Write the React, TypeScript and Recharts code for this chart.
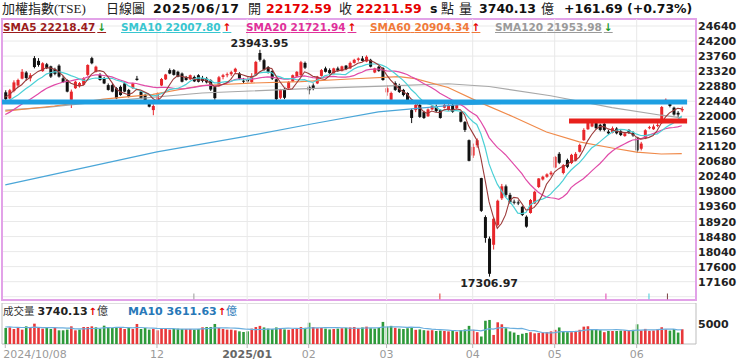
import React from 'react';
import {
  ComposedChart, Bar, Line, XAxis, YAxis, CartesianGrid,
  ReferenceLine, ReferenceArea, ReferenceDot,
} from 'recharts';

// ---------- DATA (TAIEX daily, 2024/10/08 - 2025/06/17) : [open, high, low, close]
const oct2024 = [
  [22700, 22760, 22470, 22500], [22520, 22800, 22500, 22760], [22740, 23050, 22700, 22990],
  [22900, 23100, 22860, 23060], [23100, 23380, 23080, 23300], [23280, 23320, 23050, 23120],
  [23110, 23260, 23020, 23200], [23700, 23760, 23400, 23440], [23620, 23700, 23450, 23500],
  [23320, 23580, 23300, 23550], [23520, 23560, 23380, 23410], [23460, 23480, 23120, 23160],
  [23380, 23420, 23200, 23240], [23480, 23520, 23130, 23160], [23110, 23180, 22980, 23000],
  [23060, 23080, 22700, 22720],
];
const nov2024 = [
  [22480, 22780, 22240, 22720], [22820, 23040, 22800, 23010], [22880, 23000, 22840, 22970],
  [22920, 23140, 22900, 23110], [23210, 23520, 23180, 23500], [23700, 23740, 23520, 23550],
  [23300, 23480, 23280, 23450], [23210, 23260, 23040, 23060], [23110, 23150, 22940, 22960],
  [22910, 22960, 22750, 22770], [22910, 22950, 22700, 22720], [22820, 22850, 22500, 22525],
  [22860, 22900, 22600, 22620], [22960, 23000, 22700, 22720], [22770, 22800, 22550, 22570],
  [22820, 22980, 22800, 22960], [23100, 23180, 23040, 23060], [22720, 22760, 22500, 22525],
  [22620, 22650, 22400, 22425], [22425, 22450, 22260, 22280], [22180, 22350, 22030, 22300],
];
const dec2024 = [
  [22480, 22700, 22460, 22670], [22900, 23120, 22880, 23090], [23080, 23240, 23060, 23220],
  [23350, 23400, 23230, 23250], [23350, 23380, 23190, 23210], [23300, 23330, 23140, 23160],
  [23250, 23280, 22990, 23010], [23150, 23180, 23040, 23060], [23080, 23220, 23060, 23200],
  [23150, 23190, 23000, 23020], [23200, 23230, 22990, 23010], [23120, 23180, 22990, 23030],
  [23100, 23150, 22960, 22990], [23050, 23080, 22740, 22780], [22850, 22880, 22480, 22530],
  [22880, 23180, 22860, 23140], [23150, 23240, 23080, 23200], [23200, 23280, 23140, 23230],
  [23230, 23330, 23180, 23290], [23300, 23420, 23260, 23390], [23250, 23290, 23060, 23100],
  [23040, 23120, 22950, 23030],
];
const jan2025 = [
  [23060, 23180, 22980, 23020], [23000, 23260, 22980, 23180], [23200, 23620, 23180, 23590],
  [23850, 23943.95, 23600, 23650], [23640, 23680, 23330, 23360], [23440, 23470, 23250, 23300],
  [23320, 23350, 23060, 23100], [23080, 23100, 22460, 22500], [22540, 22800, 22500, 22780],
  [22800, 22820, 22500, 22540], [22820, 23030, 22800, 23000], [23020, 23220, 23000, 23200],
  [23160, 23320, 23140, 23300], [23200, 23620, 23180, 23580], [23560, 23600, 23380, 23420],
];
const feb2025 = [
  [22860, 22900, 22640, 22760], [22900, 22960, 22760, 22800], [22960, 23180, 22940, 23160],
  [23180, 23380, 23160, 23350], [23400, 23450, 23280, 23300], [23350, 23400, 23240, 23260],
  [23250, 23420, 23230, 23400], [23400, 23450, 23300, 23330], [23330, 23480, 23310, 23460],
  [23480, 23500, 23350, 23380], [23400, 23600, 23380, 23560], [23560, 23680, 23540, 23650],
  [23650, 23720, 23600, 23690], [23690, 23760, 23600, 23620], [23600, 23780, 23580, 23740],
  [23650, 23680, 23430, 23450], [23280, 23420, 23260, 23400], [23450, 23480, 23300, 23330],
  [23410, 23440, 23040, 23060],
];
const mar2025 = [
  [22700, 22900, 22600, 22820], [22480, 22720, 22400, 22680], [22970, 23020, 22740, 22770],
  [22910, 22950, 22680, 22710], [22770, 22800, 22580, 22620], [22680, 22700, 22440, 22475],
  [22180, 22220, 21800, 21950], [22180, 22360, 22120, 22330], [22330, 22380, 21950, 21980],
  [22120, 22160, 21920, 21950], [22000, 22230, 21980, 22200], [22200, 22330, 22180, 22300],
  [22300, 22340, 22120, 22150], [22180, 22200, 21930, 21950], [22250, 22360, 22230, 22330],
  [22180, 22350, 22160, 22330], [22330, 22380, 22100, 22130], [22240, 22350, 22220, 22330],
  [22120, 22150, 21820, 21840], [21830, 21860, 21540, 21600], [21300, 21320, 20680, 20695],
];
const apr2025 = [
  [20850, 21200, 20780, 21100], [21150, 21350, 21080, 21298], [20190, 20200, 19200, 19232],
  [19050, 19100, 18300, 18440], [18420, 18480, 17306.97, 17391], [18240, 19050, 18100, 19001],
  [18820, 19560, 18780, 19528], [19600, 20020, 19550, 19950], [19950, 20000, 19640, 19700],
  [19700, 19760, 19440, 19480], [19500, 19560, 19420, 19470], [19480, 19540, 19400, 19450],
  [19350, 19380, 19080, 19110], [19060, 19100, 18740, 18770], [19170, 19580, 19150, 19550],
  [19450, 19820, 19430, 19790], [19930, 20190, 19900, 20180], [20150, 20260, 20120, 20230],
  [20230, 20330, 20200, 20300], [20300, 20400, 20260, 20350],
];
const may2025 = [
  [20500, 20840, 20480, 20810], [20900, 20950, 20600, 20640], [20340, 20600, 20300, 20570],
  [20720, 20760, 20480, 20520], [20630, 20900, 20600, 20870], [20700, 20950, 20680, 20900],
  [20960, 21200, 20940, 21160], [21300, 21650, 21280, 21600], [21620, 21880, 21600, 21830],
  [21700, 21880, 21680, 21800], [21800, 21840, 21620, 21650], [21750, 21780, 21560, 21600],
  [21780, 21800, 21560, 21600], [21550, 21600, 21460, 21500], [21520, 21700, 21500, 21650],
  [21640, 21680, 21470, 21500], [21560, 21600, 21420, 21450], [21420, 21540, 21400, 21500],
  [21600, 21620, 21480, 21520], [21520, 21560, 21400, 21440],
];
const jun2025 = [
  [21380, 21400, 20930, 21000], [21050, 21250, 21000, 21200], [21350, 21620, 21330, 21590],
  [21650, 21720, 21620, 21680], [21620, 21760, 21600, 21700], [21720, 21800, 21680, 21746],
  [21800, 22300, 21780, 22270], [22450, 22520, 22380, 22480], [22450, 22470, 22260, 22300],
  [22250, 22280, 22020, 22050], [22100, 22150, 21980, 22049.9], [22172.59, 22280, 22120, 22211.59],
];

// closes of the 19 sessions before the window (for the short moving averages)
const prevCloses = [21480, 21500, 21450, 21700, 21800, 21750, 21780, 21900, 21850, 21880,
  22050, 22200, 22350, 22300, 22200, 22400, 22450, 22550, 22900];

// turnover, 億
const volOct = [4060, 4230, 3810, 4060, 3640, 4480, 4310, 5160, 4060, 3890, 4230, 3810, 4060, 3470, 3470, 3640];
const volNov = [4480, 3470, 3640, 4310, 4310, 4480, 4230, 3890, 4650, 4230, 4060, 4230, 4060, 3810, 4060, 3810, 5080, 3810, 4060, 3640, 3810];
const volDec = [3470, 3810, 3810, 3640, 3810, 3890, 3810, 3810, 3810, 3640, 3810, 4230, 4310, 4310, 5080, 4060, 3810, 3640, 3640, 3470, 3210, 3050];
const volJan = [3210, 3900, 4300, 4600, 4200, 3900, 3800, 4200, 3900, 3700, 3600, 3800, 3900, 4300, 4100];
const volFeb = [5400, 4300, 4000, 4100, 3900, 3700, 3800, 3900, 4000, 4100, 4200, 4300, 4000, 4200, 4400, 4000, 3900, 4100, 5600];
const volMar = [4400, 4600, 4100, 3900, 3800, 4000, 4300, 3600, 3700, 3500, 3400, 3500, 3300, 3400, 3300, 3200, 3400, 3100, 3500, 3700, 4600];
const volApr = [3600, 3000, 1900, 5900, 6100, 2300, 5500, 5000, 4000, 3200, 2900, 2300, 2600, 2800, 3000, 2700, 2800, 2900, 3000, 3200];
const volMay = [3600, 4200, 3200, 3000, 3000, 3200, 3600, 4400, 4500, 3600, 3800, 3500, 3000, 3300, 3300, 3300, 3400, 3400, 3300, 3600];
const volJun = [5000, 3400, 3830, 3330, 3420, 3750, 4250, 3700, 3400, 3800, 2900, 3740.13];
const prevVolumes = [4200, 4500, 4300, 4100, 4400, 4600, 4200, 4300, 4500];

// long moving averages: [session index, value]
const sma60Points = [[0, 22150], [12, 22300], [24, 22500], [36, 22640], [48, 22900], [60, 22970], [72, 23010],
  [84, 23090], [96, 23160], [100, 23100], [108, 22840], [116, 22390], [124, 21980], [132, 21540],
  [140, 21250], [148, 21070], [154, 20950], [160, 20895], [165, 20904.34]];
const sma120Points = [[0, 22180], [10, 22260], [23, 22420], [48, 22680], [72, 22800], [92, 22880],
  [108, 22950], [118, 22870], [133, 22600], [148, 22250], [160, 22030], [165, 21953.98]];
const sma240Points = [[0, 19990], [37, 20960], [59, 21420], [75, 21780], [91, 22130], [110, 22330],
  [125, 22390], [145, 22400], [165, 22390]];

const priceTicks = [16720, 17160, 17600, 18040, 18480, 18920, 19360, 19800, 20240, 20680, 21120,
  21560, 22000, 22440, 22880, 23320, 23760, 24200, 24640];
const monthTicks = [0, 37, 59, 74, 93, 114, 134, 154];
const monthLabels = ['2024/10/08', '12', '2025/01', '02', '03', '04', '05', '06'];
const blueSupport = { from: -0.8, to: 166.3, value: 22420 };
const redResistance = { from: 137.5, to: 166.3, value: 21860 };
const eventMarks = [
  { i: 46, color: '#9a9a9a' }, { i: 106, color: '#e03030' }, { i: 146.5, color: '#e040b0' },
  { i: 157, color: '#40c8d8' }, { i: 161.5, color: '#7a4040' },
];
const highMark = { i: 62, value: 23943.95, label: '23943.95' };
const lowMark = { i: 118, value: 17306.97, label: '17306.97' };
const legendItems = [
  { name: 'SMA5', value: '22218.47', up: false, color: '#9b1c1c', x: 3 },
  { name: 'SMA10', value: '22007.80', up: true, color: '#38c6d0', x: 121 },
  { name: 'SMA20', value: '21721.94', up: true, color: '#e0309a', x: 246 },
  { name: 'SMA60', value: '20904.34', up: true, color: '#f07a3a', x: 370 },
  { name: 'SMA120', value: '21953.98', up: false, color: '#9a9a9a', x: 495 },
];

// ---------- build chart rows
const candles = [...oct2024, ...nov2024, ...dec2024, ...jan2025, ...feb2025, ...mar2025, ...apr2025, ...may2025, ...jun2025];
const volumes = [...volOct, ...volNov, ...volDec, ...volJan, ...volFeb, ...volMar, ...volApr, ...volMay, ...volJun];
const allCloses = [...prevCloses, ...candles.map((c) => c[3])];
const allVols = [...prevVolumes, ...volumes];
const toMap = (pts: number[][]) => new Map(pts.map((p) => [p[0], p[1]]));
const m60 = toMap(sma60Points);
const m120 = toMap(sma120Points);
const m240 = toMap(sma240Points);
const mean = (arr: number[], end: number, n: number) => {
  let s = 0;
  for (let j = end - n + 1; j <= end; j++) s += arr[j];
  return s / n;
};

const data = candles.map(([o, h, l, c], i) => {
  const k = i + prevCloses.length;
  const prev = allCloses[k - 1];
  return {
    i, o, h, l, c,
    ma5: mean(allCloses, k, 5),
    ma10: mean(allCloses, k, 10),
    ma20: mean(allCloses, k, 20),
    ma60: m60.has(i) ? m60.get(i) : null,
    ma120: m120.has(i) ? m120.get(i) : null,
    ma240: m240.has(i) ? m240.get(i) : null,
    v: volumes[i],
    vUp: c >= prev,
    vma10: mean(allVols, i + prevVolumes.length, 10),
  };
});

// ---------- style
const X_DOMAIN: [number, number] = [-0.8, 168.47];
const Y_DOMAIN: [number, number] = [16624, 24845];
const RED = '#e8262b';
const DOWN = '#111111';
const FONT = '"DejaVu Sans", Verdana, sans-serif';
const CJK = '"Liberation Serif", "Noto Sans CJK TC", serif';
const GRID = '#e9e9e9';

const Candle = (props: any) => {
  const { x, y, width, height, payload } = props;
  if (!payload || x == null) return <g />;
  const { o, h, l, c } = payload;
  const top = Math.min(y, y + height);
  const hh = Math.abs(height);
  const span = h - l || 1;
  const py = (v: number) => top + ((h - v) / span) * hh;
  const cx = x + width / 2;
  const color = c >= o ? RED : DOWN;
  const bt = py(Math.max(o, c));
  const bb = py(Math.min(o, c));
  return (
    <g>
      <line x1={cx} x2={cx} y1={top} y2={top + hh} stroke={color} strokeWidth={1} />
      <rect x={cx - 1.5} y={bt} width={3} height={Math.max(1, bb - bt)} fill={color} />
    </g>
  );
};

const VolBar = (props: any) => {
  const { x, y, width, height, payload } = props;
  if (!payload || x == null) return <g />;
  const top = Math.min(y, y + height);
  const cx = x + width / 2;
  return <rect x={cx - 1.3} y={top} width={2.6} height={Math.abs(height)} fill={payload.vUp ? '#e8383a' : '#2e9a3a'} />;
};

const PriceTick = (props: any) => {
  const { x, y, payload } = props;
  if (payload.value === priceTicks[0]) return <g />;
  return (
    <text x={x} y={y} dy={4} textAnchor="start" fontFamily={FONT} fontSize={11} fontWeight={700} fill="#222">
      {payload.value}
    </text>
  );
};

const VolTick = (props: any) => {
  const { x, y, payload } = props;
  return (
    <text x={x} y={y} dy={4} textAnchor="start" fontFamily={FONT} fontSize={11} fontWeight={700} fill="#222">
      {payload.value}
    </text>
  );
};

const DateTick = (props: any) => {
  const { x, y, payload } = props;
  const idx = monthTicks.indexOf(payload.value);
  const label = monthLabels[idx] ?? '';
  const first = idx === 0;
  const bold = label.length === 7;
  return (
    <text x={first ? x - 2 : x} y={y} dy={9} textAnchor={first ? 'start' : 'middle'}
      fontFamily={FONT} fontSize={11} fontWeight={bold ? 700 : 400} fill={bold ? '#666' : '#9a9a9a'}>
      {label}
    </text>
  );
};

const T = ({ x, y, children, style }: any) => (
  <span style={{ position: 'absolute', left: x, top: y, whiteSpace: 'nowrap', lineHeight: '16px', ...style }}>
    {children}
  </span>
);

const num = (size: number, color = '#111', extra: any = {}) => ({ fontFamily: FONT, fontWeight: 700, fontSize: size, color, ...extra });
const cjk = (size: number, color = '#222') => ({ fontFamily: CJK, fontSize: size, color });

export default function App() {
  return (
    <div style={{ position: 'absolute', left: 0, top: 0, width: 740, height: 364, background: '#fff', overflow: 'hidden' }}>
      {/* price panel */}
      <div style={{ position: 'absolute', left: 0, top: 0 }}>
        <ComposedChart width={740} height={301} data={data} margin={{ top: 19, right: 0, bottom: 1, left: 2 }}>
          <CartesianGrid vertical={false} stroke={GRID} />
          <XAxis type="number" dataKey="i" domain={X_DOMAIN} ticks={monthTicks} allowDataOverflow hide />
          <YAxis orientation="right" width={44} domain={Y_DOMAIN} ticks={priceTicks} allowDataOverflow
            axisLine={false} tickLine={false} tickSize={0} tickMargin={2} interval={0} tick={<PriceTick />} />
          {monthTicks.slice(1).map((m) => (
            <ReferenceLine key={'g' + m} x={m} stroke={GRID} strokeWidth={1} />
          ))}
          <Line dataKey="ma240" stroke="#4aa6d8" strokeWidth={1.2} dot={false} connectNulls isAnimationActive={false} />
          <Line dataKey="ma120" stroke="#a8a8a8" strokeWidth={1.2} dot={false} connectNulls isAnimationActive={false} />
          <Line dataKey="ma60" stroke="#f08a4a" strokeWidth={1.2} dot={false} connectNulls isAnimationActive={false} />
          <Bar dataKey={(d: any) => [d.l, d.h]} barSize={3} shape={<Candle />} isAnimationActive={false} />
          <Line dataKey="ma20" stroke="#e04aa8" strokeWidth={1.2} dot={false} isAnimationActive={false} />
          <Line dataKey="ma10" stroke="#4cd0d6" strokeWidth={1.2} dot={false} isAnimationActive={false} />
          <Line dataKey="ma5" stroke="#9c3a3a" strokeWidth={1.1} dot={false} isAnimationActive={false} />
          <ReferenceLine segment={[{ x: blueSupport.from, y: blueSupport.value }, { x: blueSupport.to, y: blueSupport.value }]}
            stroke="#1e9fe2" strokeWidth={5} />
          <ReferenceLine segment={[{ x: redResistance.from, y: redResistance.value }, { x: redResistance.to, y: redResistance.value }]}
            stroke="#e8201c" strokeWidth={5} />
          {eventMarks.map((e) => (
            <ReferenceLine key={'e' + e.i} segment={[{ x: e.i, y: Y_DOMAIN[0] + 20 }, { x: e.i, y: Y_DOMAIN[0] + 190 }]}
              stroke={e.color} strokeWidth={1} />
          ))}
          <ReferenceDot x={highMark.i} y={highMark.value} r={0} fill="none" stroke="none"
            label={{ value: highMark.label, position: 'top', offset: 3, fill: '#222', fontSize: 11, fontWeight: 700, fontFamily: FONT }} />
          <ReferenceDot x={lowMark.i} y={lowMark.value} r={0} fill="none" stroke="none"
            label={{ value: lowMark.label, position: 'bottom', offset: 3, fill: '#222', fontSize: 11, fontWeight: 700, fontFamily: FONT }} />
          <ReferenceArea x1={X_DOMAIN[0]} x2={X_DOMAIN[1]} y1={Y_DOMAIN[0]} y2={Y_DOMAIN[1]}
            fill="none" fillOpacity={0} stroke="#e2a2e8" strokeWidth={2} />
        </ComposedChart>
      </div>

      {/* volume panel */}
      <div style={{ position: 'absolute', left: 0, top: 303 }}>
        <ComposedChart width={740} height={61} data={data} margin={{ top: 0, right: 0, bottom: 0, left: 2 }}>
          <XAxis type="number" dataKey="i" domain={X_DOMAIN} ticks={monthTicks} interval={0} allowDataOverflow
            height={20} axisLine={false} tickLine={{ stroke: '#b8b8b8' }} tickSize={4} tickMargin={1} tick={<DateTick />} />
          <YAxis orientation="right" width={44} domain={[0, 10400]} ticks={[5000]} allowDataOverflow
            axisLine={false} tickLine={false} tickSize={0} tickMargin={2} tick={<VolTick />} />
          {monthTicks.slice(1).map((m) => (
            <ReferenceLine key={'vg' + m} x={m} stroke={GRID} strokeWidth={1} />
          ))}
          <Bar dataKey="v" barSize={3} shape={<VolBar />} isAnimationActive={false} />
          <Line dataKey="vma10" stroke="#6aaede" strokeWidth={1.2} dot={false} isAnimationActive={false} />
          <ReferenceArea x1={X_DOMAIN[0]} x2={X_DOMAIN[1]} y1={0} y2={10400} fill="none" fillOpacity={0} stroke="#bdbdbd" strokeWidth={1} />
        </ComposedChart>
      </div>

      {/* header */}
      <T x={2} y={1} style={cjk(13)}>加權指數(TSE)</T>
      <T x={106} y={1} style={cjk(13)}>日線圖</T>
      <T x={153} y={1} style={num(12.5, '#111', { letterSpacing: 0.8 })}>2025/06/17</T>
      <T x={248} y={1} style={cjk(13)}>開</T>
      <T x={266} y={1} style={num(12.5, '#e60000')}>22172.59</T>
      <T x={339} y={1} style={cjk(13)}>收</T>
      <T x={356} y={1} style={num(12.5, '#e60000')}>22211.59</T>
      <T x={430} y={1} style={num(12.5)}>s</T>
      <T x={441} y={1} style={cjk(13)}>點</T>
      <T x={459} y={1} style={cjk(13)}>量</T>
      <T x={479} y={1} style={num(12.5)}>3740.13</T>
      <T x={541} y={1} style={cjk(13)}>億</T>
      <T x={564} y={1} style={num(12.5)}>+161.69 (+0.73%)</T>

      {/* MA legend */}
      {legendItems.map((it) => (
        <T key={it.name} x={it.x} y={20} style={{ ...num(10.5, it.color), lineHeight: '14px', textDecoration: 'underline', textDecorationColor: it.color }}>
          {it.name} {it.value}
          <span style={{ color: it.up ? '#e60000' : '#1a9a2a', marginLeft: 2 }}>{it.up ? '↑' : '↓'}</span>
        </T>
      ))}

      {/* volume legend */}
      <T x={3} y={303} style={{ display: 'flex', alignItems: 'baseline' }}>
        <span style={cjk(10.5, '#333')}>成交量</span>
        <span style={{ ...num(11, '#222'), marginLeft: 3 }}>3740.13</span>
        <span style={{ ...num(10, '#e60000'), marginLeft: 1 }}>↑</span>
        <span style={cjk(11, '#333')}>億</span>
      </T>
      <T x={128} y={303} style={{ display: 'flex', alignItems: 'baseline' }}>
        <span style={num(11, '#2878b8')}>MA10 3611.63</span>
        <span style={{ ...num(10, '#e60000'), marginLeft: 1 }}>↑</span>
        <span style={cjk(11, '#2878b8')}>億</span>
      </T>
    </div>
  );
}
